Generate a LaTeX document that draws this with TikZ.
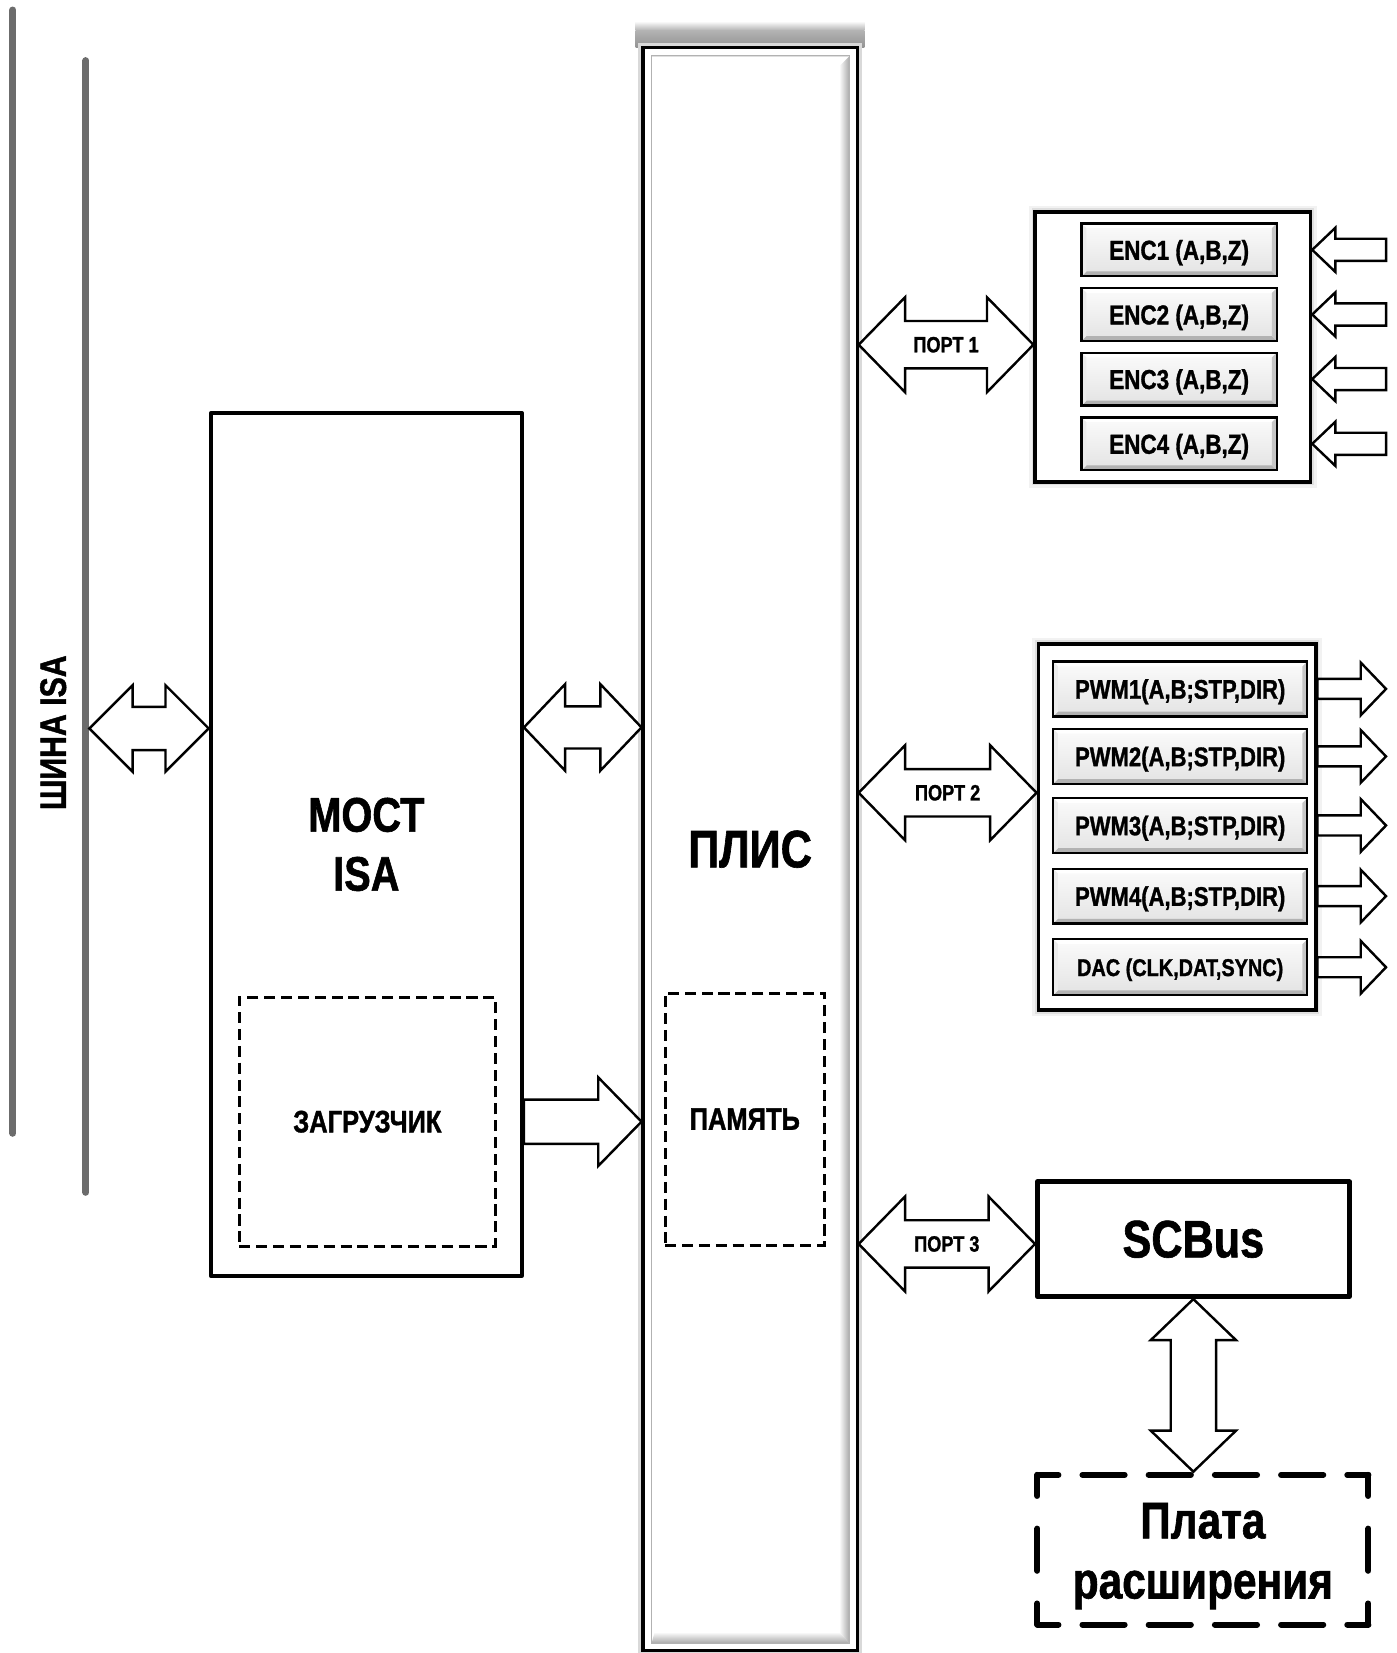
\documentclass[tikz,border=0pt]{standalone}
\usepackage{fontspec}
\setmainfont{Liberation Sans}[FakeStretch=0.82,FakeBold=1.2]
\usetikzlibrary{calc}
\definecolor{busgray}{RGB}{108,108,108}
\newcommand\bfs[2]{\fontsize{#1}{#2}\selectfont\bfseries}
% horizontal double block arrow: #1 left tip, #2 right tip, #3 head length, #4 head half height, #5 shaft half height
\newcommand\dblH[5]{\draw[blockarrow] (#1) -- ($(#1)+(#3,-#4)$) -- ($(#1)+(#3,-#5)$) -- ($(#2)+(-#3,-#5)$) -- ($(#2)+(-#3,-#4)$) -- (#2) -- ($(#2)+(-#3,#4)$) -- ($(#2)+(-#3,#5)$) -- ($(#1)+(#3,#5)$) -- ($(#1)+(#3,#4)$) -- cycle;}
% vertical double block arrow: #1 top tip, #2 bottom tip
\newcommand\dblV[5]{\draw[blockarrow] (#1) -- ($(#1)+(#4,#3)$) -- ($(#1)+(#5,#3)$) -- ($(#2)+(#5,-#3)$) -- ($(#2)+(#4,-#3)$) -- (#2) -- ($(#2)+(-#4,-#3)$) -- ($(#2)+(-#5,-#3)$) -- ($(#1)+(-#5,#3)$) -- ($(#1)+(-#4,#3)$) -- cycle;}
% right-pointing block arrow: #1 tail, #2 tip
\newcommand\arrR[5]{\draw[blockarrow] ($(#1)+(0,-#5)$) -- ($(#2)+(-#3,-#5)$) -- ($(#2)+(-#3,-#4)$) -- (#2) -- ($(#2)+(-#3,#4)$) -- ($(#2)+(-#3,#5)$) -- ($(#1)+(0,#5)$) -- cycle;}
% left-pointing block arrow: #1 tip, #2 tail
\newcommand\arrL[5]{\draw[blockarrow] (#1) -- ($(#1)+(#3,-#4)$) -- ($(#1)+(#3,-#5)$) -- ($(#2)+(0,-#5)$) -- ($(#2)+(0,#5)$) -- ($(#1)+(#3,#5)$) -- ($(#1)+(#3,#4)$) -- cycle;}
\begin{document}
\begin{tikzpicture}[x=1pt,y=-1pt,
  every node/.style={inner sep=2pt},
  blockarrow/.style={draw=black, fill=white, line width=2.3pt, line join=miter},
  mainbox/.style={draw=black, fill=white, line width=4pt, line join=round},
  groupbox/.style={preaction={draw=gray!10, line width=12pt},
                   preaction={draw=gray!25, line width=7pt},
                   draw=black, fill=white, line width=3.5pt},
  dashbox/.style={draw=black, line width=2.8pt, dash pattern=on 10.5pt off 5.5pt},
  hdash/.style={line width=5.7pt, line cap=round, dash pattern=on 40pt off 22.8pt, dash phase=20pt},
  vdash/.style={line width=5.7pt, line cap=round, dash pattern=on 40pt off 31pt, dash phase=20pt},
  portlabel/.style={font=\bfs{21}{24}},
  bevelbox/.style={draw=black, line width=2.2pt, text depth=0pt, top color=gray!3, bottom color=gray!22,
    path picture={
      \coordinate (bNW) at (path picture bounding box.north west);
      \coordinate (bNE) at (path picture bounding box.north east);
      \coordinate (bSW) at (path picture bounding box.south west);
      \coordinate (bSE) at (path picture bounding box.south east);
      \fill[white] (bNW) -- (bNE) -- ([shift={(-4.5pt,-4.5pt)}]bNE) -- ([shift={(4.5pt,-4.5pt)}]bNW) -- cycle;
      \fill[gray!60] (bSW) -- (bSE) -- ([shift={(-4.5pt,4.5pt)}]bSE) -- ([shift={(4.5pt,4.5pt)}]bSW) -- cycle;
      \fill[gray!45] (bNE) -- (bSE) -- ([shift={(-4.5pt,4.5pt)}]bSE) -- ([shift={(-4.5pt,-4.5pt)}]bNE) -- cycle;
      \fill[gray!15] (bNW) -- (bSW) -- ([shift={(4.5pt,4.5pt)}]bSW) -- ([shift={(4.5pt,-4.5pt)}]bNW) -- cycle;
    }},
  plisbox/.style={draw=black, fill=white, line width=3pt,
    preaction={draw=gray!30, line width=9pt},
    path picture={
      \coordinate (iNW) at ([shift={(8pt,-8pt)}]path picture bounding box.north west);
      \coordinate (iNE) at ([shift={(-7pt,-8pt)}]path picture bounding box.north east);
      \coordinate (iSW) at ([shift={(8pt,7pt)}]path picture bounding box.south west);
      \coordinate (iSE) at ([shift={(-7pt,7pt)}]path picture bounding box.south east);
      \shade[left color=white, right color=gray!70] ([shift={(-10pt,-10pt)}]iNE) -- (iNE) -- (iSE) -- ([shift={(-10pt,11pt)}]iSE) -- cycle;
      \shade[top color=white, bottom color=gray!70] ([shift={(3pt,11pt)}]iSW) -- ([shift={(-10pt,11pt)}]iSE) -- (iSE) -- (iSW) -- cycle;
      \draw[gray!55, line width=1.5pt] (iSW) -- (iNW);
      \draw[gray!25, line width=1.5pt] (iNW) -- (iNE);
      \draw[gray!60, line width=0.8pt] (iNW) rectangle (iSE);
    }},
]
\path[use as bounding box] (0,0) rectangle (1325,1568);
\clip (0,0) rectangle (1325,1568);
\fill[white] (0,0) rectangle (1325,1568);

% ISA bus
\draw[busgray, line width=6.6pt, line cap=round] (12.3,9.5) -- (12.3,1075);
\draw[busgray, line width=6.6pt, line cap=round] (81.5,57.5) -- (81.5,1131);
\coordinate (busR) at (84.8,691);
\node[rotate=90, font=\bfs{35}{40}] (isa) at (50.5,695) {ШИНА ISA};

% PLIS with top shadow
\shade[top color=white, bottom color=gray!60] (603,20) rectangle (820,29);
\shade[top color=gray!60, bottom color=gray!85] (603,29) rectangle (820,45);
\node[plisbox, minimum width=203pt, minimum height=1521pt, font=\bfs{50}{60}] (plis) at (711.5,805.5) {ПЛИС};
\node[dashbox, minimum width=151pt, minimum height=239pt, font=\bfs{29.5}{35}] (pam) at (706.5,1061.5) {ПАМЯТЬ};

% MOST ISA
\node[mainbox, minimum width=295pt, minimum height=818pt, align=center, font=\bfs{46}{56}] (most) at (347.5,801) {МОСТ\\ISA};
\node[dashbox, minimum width=243pt, minimum height=236pt, font=\bfs{29.5}{35}] (zagr) at (348.5,1064) {ЗАГРУЗЧИК};

% ENC group
\node[groupbox, minimum width=261pt, minimum height=256pt] (enc) at (1112.5,329) {};
\foreach \i/\y in {1/237,2/298.3,3/359.6,4/421}{
  \node[bevelbox, minimum width=185pt, minimum height=50pt, font=\bfs{26}{30}] (e\i) at (1118.5,\y) {ENC\i\ (A,B,Z)};
}

% PWM group
\node[groupbox, minimum width=263pt, minimum height=347pt] (pwm) at (1116.5,784.5) {};
\foreach \i/\y in {1/653.5,2/717.5,3/783,4/850}{
  \node[bevelbox, minimum width=241pt, minimum height=52pt, font=\bfs{25.5}{30}] (p\i) at (1119.5,\y) {PWM\i(A,B;STP,DIR)};
}
\node[bevelbox, minimum width=241pt, minimum height=53pt, font=\bfs{23}{28}] (p5) at (1119.5,917.5) {DAC (CLK,DAT,SYNC)};

% SCBus and expansion board
\node[mainbox, line width=4.5pt, minimum width=296pt, minimum height=109pt, font=\bfs{50}{60}] (scbus) at (1132,1175.5) {SCBus};
\node[outer sep=0pt, minimum width=314pt, minimum height=142pt] (plata) at (1141,1470) {};
\node[align=center, font=\bfs{49}{57}] (platatext) at (1141,1476) {Плата\\расширения};
\draw[hdash] (plata.north west) -- (plata.north east);
\draw[hdash] (plata.south west) -- (plata.south east);
\draw[vdash] (plata.north west) -- (plata.south west);
\draw[vdash] (plata.north east) -- (plata.south east);

% arrows
\coordinate (a1R) at (most.west |- busR);
\dblH{busR}{a1R}{41}{41}{20.5}
\coordinate (a2L) at (most.east |- 0,690);
\coordinate (a2R) at (plis.west |- 0,690);
\dblH{a2L}{a2R}{39}{41}{20}
\coordinate (a3T) at (most.east |- zagr);
\coordinate (a3H) at (plis.west |- zagr);
\arrR{a3T}{a3H}{41}{42}{21}

\coordinate (pa1L) at (plis.east |- 0,327);
\coordinate (pa1R) at (enc.west |- 0,327);
\dblH{pa1L}{pa1R}{44}{45}{22.5}
\node[portlabel] (l1) at ($(pa1L)!0.5!(pa1R)$) {ПОРТ 1};
\coordinate (pa2L) at (plis.east |- 0,752);
\coordinate (pa2R) at (pwm.west |- 0,752);
\dblH{pa2L}{pa2R}{44}{45}{22.5}
\node[portlabel] (l2) at ($(pa2L)!0.5!(pa2R)$) {ПОРТ 2};
\coordinate (pa3L) at (plis.east |- 0,1180);
\coordinate (pa3R) at (scbus.west |- 0,1180);
\dblH{pa3L}{pa3R}{44}{45}{22.5}
\node[portlabel] (l3) at ($(pa3L)!0.5!(pa3R)$) {ПОРТ 3};

\coordinate (vT) at (scbus.south);
\coordinate (vB) at ($(scbus.south |- plata.north)+(0,-3)$);
\dblV{vT}{vB}{39}{40.5}{21.5}

\foreach \i in {1,2,3,4}{
  \coordinate (ei\i) at (enc.east |- e\i);
  \coordinate (et\i) at ($(ei\i)+(70,0)$);
  \arrL{ei\i}{et\i}{22}{21}{10.5}
}
\foreach \i in {1,2,3,4,5}{
  \coordinate (po\i) at (pwm.east |- p\i);
  \coordinate (pt\i) at ($(po\i)+(65,0)$);
  \arrR{po\i}{pt\i}{24}{25}{9.5}
}
\end{tikzpicture}
\end{document}
